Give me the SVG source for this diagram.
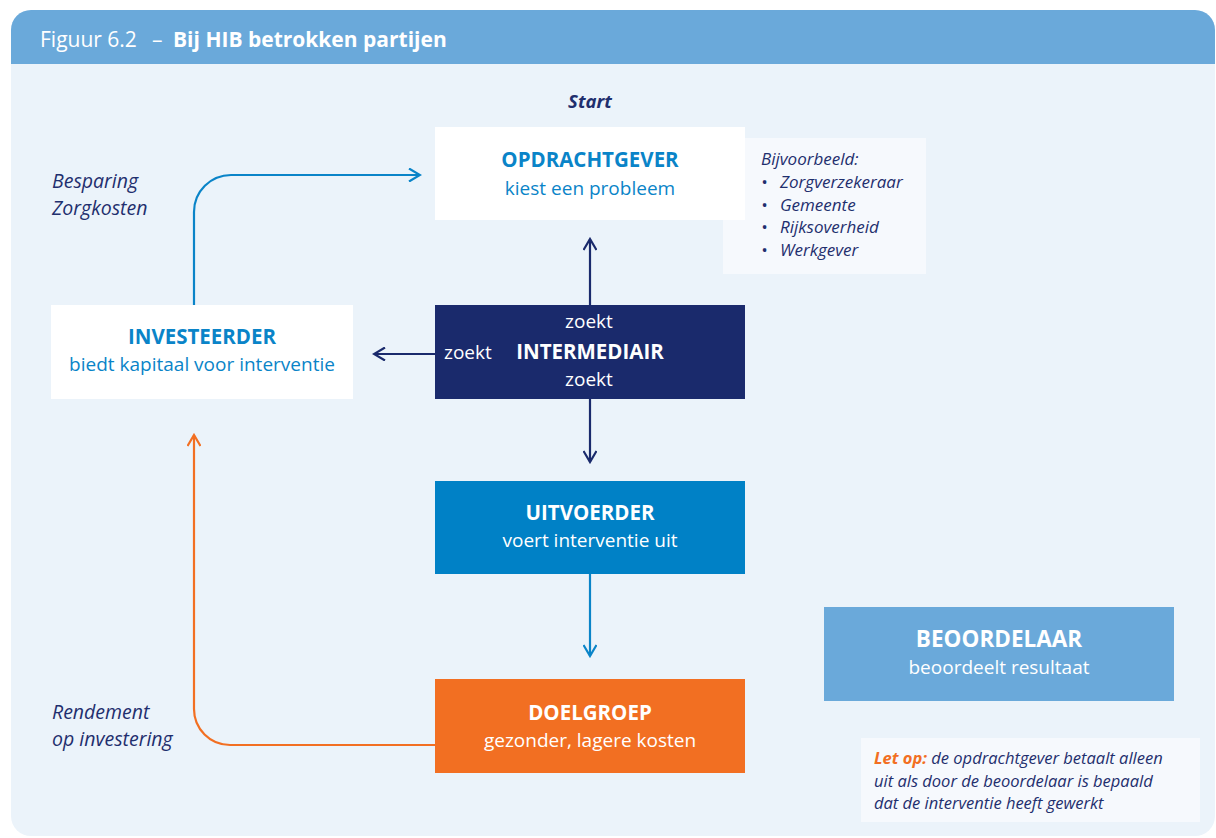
<svg xmlns="http://www.w3.org/2000/svg" width="1216" height="838" viewBox="0 0 1216 838">
<defs>
<style>
text{font-family:"Open Sans","Liberation Sans",sans-serif;}
.t{text-anchor:middle;}
.h{font-weight:bold;font-size:20.5px;}
.s{font-size:19px;}
.it{font-style:italic;fill:#1f2f6e;}
.wh{fill:#ffffff;}
.bl{fill:#0a84c8;}
.conn{fill:none;stroke-width:2.2;}
</style>
<marker id="aNavy" markerWidth="14" markerHeight="14" refX="12" refY="7" orient="auto" markerUnits="userSpaceOnUse">
<path d="M1,0.5 L12,7 L1,13.5" fill="none" stroke="#1a2a6c" stroke-width="2.2"/>
</marker>
<marker id="aBlue" markerWidth="14" markerHeight="14" refX="12" refY="7" orient="auto" markerUnits="userSpaceOnUse">
<path d="M1,0.5 L12,7 L1,13.5" fill="none" stroke="#0a84c8" stroke-width="2.2"/>
</marker>
<marker id="aOrange" markerWidth="14" markerHeight="14" refX="12" refY="7" orient="auto" markerUnits="userSpaceOnUse">
<path d="M1,0.5 L12,7 L1,13.5" fill="none" stroke="#f26f22" stroke-width="2.2"/>
</marker>
</defs>
<rect width="1216" height="838" fill="#ffffff"/>
<g id="panel">
<rect x="11" y="10" width="1204" height="826" rx="20" fill="#ebf3fa"/>
<path d="M11,64 V30 A20,20 0 0 1 31,10 H1195 A20,20 0 0 1 1215,30 V64 Z" fill="#6aa9da"/>
<text x="40" y="47" font-size="21" fill="#ffffff">Figuur 6.2<tspan x="152">–</tspan><tspan x="173" font-weight="bold">Bij HIB betrokken partijen</tspan></text>
</g>
<g id="start"><text x="590" y="108" class="t it" font-weight="bold" font-size="18.5">Start</text></g>
<g id="voorbeelden">
<rect x="723" y="138" width="203" height="136" fill="#f6f9fd"/>
<g class="it" font-size="17">
<text x="761" y="165">Bijvoorbeeld:</text>
<text x="761" y="188">•<tspan x="780">Zorgverzekeraar</tspan></text>
<text x="761" y="211">•<tspan x="780">Gemeente</tspan></text>
<text x="761" y="233">•<tspan x="780">Rijksoverheid</tspan></text>
<text x="761" y="256">•<tspan x="780">Werkgever</tspan></text>
</g>
</g>
<g id="opdrachtgever">
<rect x="435" y="127" width="310" height="93" fill="#ffffff"/>
<text x="590" y="167" class="t h bl">OPDRACHTGEVER</text>
<text x="590" y="195" class="t s bl">kiest een probleem</text>
</g>
<g id="investeerder">
<rect x="51" y="305" width="302" height="94" fill="#ffffff"/>
<text x="202" y="344" class="t h bl">INVESTEERDER</text>
<text x="202" y="371" class="t s bl">biedt kapitaal voor interventie</text>
</g>
<g id="intermediair">
<rect x="435" y="305" width="310" height="94" fill="#1a2a6c"/>
<text x="589" y="328" class="t s wh">zoekt</text>
<text x="444" y="359" class="s wh">zoekt</text>
<text x="590" y="359" class="t h wh">INTERMEDIAIR</text>
<text x="589" y="386" class="t s wh">zoekt</text>
</g>
<g id="uitvoerder">
<rect x="435" y="481" width="310" height="93" fill="#0081c6"/>
<text x="590" y="520" class="t h wh">UITVOERDER</text>
<text x="590" y="547" class="t s wh">voert interventie uit</text>
</g>
<g id="doelgroep">
<rect x="435" y="679" width="310" height="94" fill="#f26f22"/>
<text x="590" y="720" class="t h wh">DOELGROEP</text>
<text x="590" y="747" class="t s wh">gezonder, lagere kosten</text>
</g>
<g id="beoordelaar">
<rect x="824" y="607" width="350" height="94" fill="#6aa9da"/>
<text x="999" y="647" class="t wh" font-weight="bold" font-size="22.5">BEOORDELAAR</text>
<text x="999" y="674" class="t s wh">beoordeelt resultaat</text>
</g>
<g id="labels" class="it" font-size="19.5">
<text x="52" y="188">Besparing</text>
<text x="52" y="215">Zorgkosten</text>
<text x="52" y="719">Rendement</text>
<text x="52" y="746">op investering</text>
</g>
<g id="letop">
<rect x="861" y="738" width="339" height="84" fill="#f6f9fd"/>
<g class="it" font-size="16.5">
<text x="874" y="764"><tspan fill="#f26f22" font-weight="bold">Let op:</tspan> de opdrachtgever betaalt alleen</text>
<text x="874" y="787">uit als door de beoordelaar is bepaald</text>
<text x="874" y="809">dat de interventie heeft gewerkt</text>
</g>
</g>
<g id="connectors">
<path class="conn" stroke="#0a84c8" d="M194,305 V212 A37,37 0 0 1 231,175 H420" marker-end="url(#aBlue)"/>
<path class="conn" stroke="#1a2a6c" d="M590,305 V239" marker-end="url(#aNavy)"/>
<path class="conn" stroke="#1a2a6c" d="M590,399 V462" marker-end="url(#aNavy)"/>
<path class="conn" stroke="#1a2a6c" d="M435,354 H374" marker-end="url(#aNavy)"/>
<path class="conn" stroke="#0a84c8" d="M590,574 V656" marker-end="url(#aBlue)"/>
<path class="conn" stroke="#f26f22" d="M435,745 H230 A36,36 0 0 1 194,709 V435" marker-end="url(#aOrange)"/>
</g>
</svg>
